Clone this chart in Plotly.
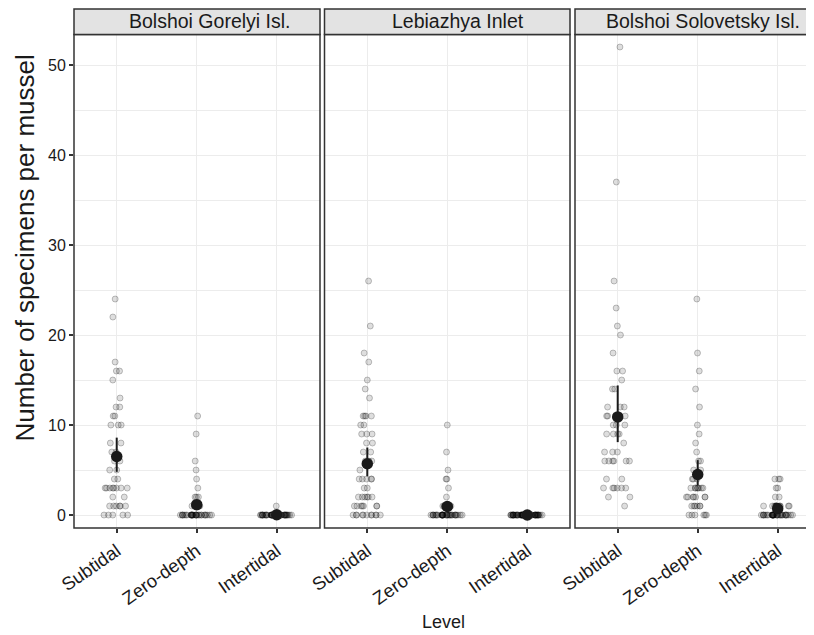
import plotly.graph_objects as go

# ---------------- data ----------------
levels = ["Subtidal", "Zero-depth", "Intertidal"]
sites = ["Bolshoi Gorelyi Isl.", "Lebiazhya Inlet", "Bolshoi Solovetsky Isl."]

gorelyi_subtidal = [24, 22, 17, 16, 16, 15, 13, 12, 12, 11, 11, 10, 10, 10, 8, 8, 7, 7, 6, 6,
                    5, 5, 4, 4, 3, 3, 3, 3, 3, 3, 3, 3, 2, 2, 1, 1, 1, 1, 1, 1, 0, 0, 0, 0, 0]
gorelyi_zero = [11, 9, 6, 5, 4, 3, 2, 2, 2, 1, 1, 1, 1, 1, 1, 1,
                0, 0, 0, 0, 0, 0, 0, 0, 0, 0, 0, 0, 0, 0, 0, 0, 0, 0, 0, 0, 0, 0, 0, 0, 0, 0, 0, 0, 0, 0]
gorelyi_inter = [1, 0, 0, 0, 0, 0, 0, 0, 0, 0, 0, 0, 0, 0, 0, 0, 0, 0, 0, 0, 0, 0, 0, 0, 0,
                 0, 0, 0, 0, 0, 0, 0, 0, 0, 0, 0, 0, 0, 0, 0, 0, 0, 0, 0, 0]

lebiazhya_subtidal = [26, 21, 18, 17, 15, 14, 13, 11, 11, 11, 11, 10, 10, 9, 9, 9, 8, 8, 7, 7,
                      6, 6, 6, 5, 4, 4, 4, 4, 4, 3, 3, 2, 2, 2, 2, 2, 2, 1, 1, 1, 1, 1, 1, 1,
                      0, 0, 0, 0, 0, 0, 0, 0, 0, 0, 0]
lebiazhya_zero = [10, 7, 5, 4, 4, 3, 2, 1, 1, 1, 1, 1, 1, 1, 1, 1, 1,
                  0, 0, 0, 0, 0, 0, 0, 0, 0, 0, 0, 0, 0, 0, 0, 0, 0, 0, 0, 0, 0, 0, 0, 0,
                  0, 0, 0, 0, 0, 0, 0, 0, 0, 0]
lebiazhya_inter = [0, 0, 0, 0, 0, 0, 0, 0, 0, 0, 0, 0, 0, 0, 0, 0, 0, 0, 0, 0, 0, 0, 0, 0, 0,
                   0, 0, 0, 0, 0, 0, 0, 0, 0, 0, 0, 0, 0, 0, 0, 0, 0, 0, 0, 0, 0, 0, 0, 0, 0]

solovetsky_subtidal = [52, 37, 26, 23, 21, 20, 18, 16, 16, 15, 14, 14, 12, 12, 12, 11, 11, 11,
                       10, 10, 10, 9, 9, 9, 9, 8, 7, 7, 7, 6, 6, 6, 6, 6, 6, 4, 4,
                       3, 3, 3, 3, 3, 3, 2, 2, 1]
solovetsky_zero = [24, 18, 16, 14, 12, 10, 9, 8, 7, 6, 6, 5, 5, 4, 4, 4,
                   3, 3, 3, 3, 3, 3, 3, 3, 2, 2, 2, 2, 2, 2, 2,
                   1, 1, 1, 1, 1, 1, 0, 0, 0, 0, 0, 0]
solovetsky_inter = [4, 4, 4, 3, 3, 2, 2, 1, 1, 1, 1, 1, 1, 1, 1, 1, 1, 1, 1, 1, 1,
                    0, 0, 0, 0, 0, 0, 0, 0, 0, 0, 0, 0, 0, 0, 0, 0, 0, 0, 0, 0, 0, 0, 0, 0,
                    0, 0, 0, 0, 0, 0, 0, 0, 0]

gorelyi_mean = [6.5, 1.15, 0.03]
gorelyi_low = [4.8, 0.75, 0.0]
gorelyi_high = [8.6, 1.6, 0.08]
lebiazhya_mean = [5.7, 0.95, 0.0]
lebiazhya_low = [4.3, 0.6, 0.0]
lebiazhya_high = [7.5, 1.4, 0.0]
solovetsky_mean = [10.9, 4.5, 0.7]
solovetsky_low = [8.1, 3.3, 0.45]
solovetsky_high = [14.4, 6.1, 1.0]

y_ticks = [0, 10, 20, 30, 40, 50]

panel_points = [
    [gorelyi_subtidal, gorelyi_zero, gorelyi_inter],
    [lebiazhya_subtidal, lebiazhya_zero, lebiazhya_inter],
    [solovetsky_subtidal, solovetsky_zero, solovetsky_inter],
]
panel_means = [gorelyi_mean, lebiazhya_mean, solovetsky_mean]
panel_lows = [gorelyi_low, lebiazhya_low, solovetsky_low]
panel_highs = [gorelyi_high, lebiazhya_high, solovetsky_high]

# ---------------- layout geometry (page body has an 8px margin) ----------------
W, H = 806, 627
px_domains = [(66, 312), (316.5, 562), (567, 806)]
x_ranges = [[-0.534, 2.541], [-0.535, 2.534], [-0.534, 2.454]]
plot_top, plot_bot = 26.5, 520
strip_top = 1.0
strip_text_x = [201, 449.5, 695]
FONT = "Liberation Sans, Arial, Helvetica, sans-serif"
TXT = "#1a1a1a"
GRID = "#ececec"

fig = go.Figure()

for p in range(3):
    xa = "x" if p == 0 else f"x{p + 1}"
    ya = "y" if p == 0 else f"y{p + 1}"
    for li, vals in enumerate(panel_points[p]):
        fig.add_trace(go.Box(
            x=[li] * len(vals), y=vals, orientation="v",
            boxpoints="all", jitter=1, pointpos=0, width=0.42,
            line=dict(width=0, color="rgba(0,0,0,0)"), fillcolor="rgba(0,0,0,0)",
            whiskerwidth=0,
            marker=dict(size=6, color="rgba(0,0,0,0.13)",
                        line=dict(color="rgba(0,0,0,0.23)", width=1)),
            xaxis=xa, yaxis=ya, showlegend=False, hoverinfo="y",
        ))
for p in range(3):
    xa = "x" if p == 0 else f"x{p + 1}"
    ya = "y" if p == 0 else f"y{p + 1}"
    m = panel_means[p]
    fig.add_trace(go.Scatter(
        x=[0, 1, 2], y=m, mode="markers",
        marker=dict(size=11.5, color="#1a1a1a"),
        error_y=dict(type="data", symmetric=False,
                     array=[h - v for h, v in zip(panel_highs[p], m)],
                     arrayminus=[v - l for l, v in zip(panel_lows[p], m)],
                     color="#1a1a1a", thickness=2, width=0),
        xaxis=xa, yaxis=ya, showlegend=False,
    ))

layout = dict(
    width=W, height=H, margin=dict(l=0, r=0, t=0, b=0),
    paper_bgcolor="white", plot_bgcolor="white",
    font=dict(family=FONT, color=TXT),
    template="none", showlegend=False,
)
ydom = [1 - plot_bot / H, 1 - plot_top / H]
for p in range(3):
    xk = "xaxis" if p == 0 else f"xaxis{p + 1}"
    yk = "yaxis" if p == 0 else f"yaxis{p + 1}"
    x0, x1 = px_domains[p]
    layout[xk] = dict(
        domain=[x0 / W, x1 / W], range=x_ranges[p], type="linear",
        tickmode="array", tickvals=[0, 1, 2], ticktext=levels,
        tickangle=-35, tickfont=dict(size=18.5, color=TXT, family=FONT),
        ticks="outside", ticklen=4, tickwidth=1.5, tickcolor="#333333",
        showgrid=True, gridcolor=GRID, gridwidth=1.3, zeroline=False,
        showline=False, anchor="y" if p == 0 else f"y{p + 1}",
    )
    layout[yk] = dict(
        domain=ydom, range=[-1.44, 53.39], type="linear",
        tickmode="array", tickvals=y_ticks,
        showticklabels=(p == 0), tickfont=dict(size=16, color=TXT, family=FONT),
        ticks="outside" if p == 0 else "", ticklen=4, tickwidth=1.5, tickcolor="#333333",
        showgrid=True, gridcolor=GRID, gridwidth=1.3, zeroline=False,
        minor=dict(tickvals=[5, 15, 25, 35, 45], showgrid=True, gridcolor=GRID, gridwidth=1.3),
        showline=False, anchor="x" if p == 0 else f"x{p + 1}",
    )

shapes = []
annotations = []
for p in range(3):
    x0, x1 = px_domains[p]
    xr = x1 / W if p < 2 else 1.01
    shapes.append(dict(type="rect", xref="paper", yref="paper",
                       x0=x0 / W, x1=xr, y0=ydom[0], y1=ydom[1],
                       line=dict(color="#333333", width=1.5), fillcolor="rgba(0,0,0,0)",
                       layer="above"))
    shapes.append(dict(type="rect", xref="paper", yref="paper",
                       x0=x0 / W, x1=xr, y0=1 - plot_top / H, y1=1 - strip_top / H,
                       line=dict(color="#333333", width=1.5), fillcolor="#e3e3e3",
                       layer="above"))
    annotations.append(dict(text=sites[p], xref="paper", yref="paper",
                            x=strip_text_x[p] / W, y=1 - 13.5 / H,
                            xanchor="center", yanchor="middle", showarrow=False,
                            font=dict(size=19.5, color=TXT, family=FONT)))

annotations.append(dict(text="Number of specimens per mussel", xref="paper", yref="paper",
                        x=16.5 / W, y=1 - 240 / H, textangle=-90,
                        xanchor="center", yanchor="middle", showarrow=False,
                        font=dict(size=26, color=TXT, family=FONT)))
annotations.append(dict(text="Level", xref="paper", yref="paper",
                        x=435 / W, y=1 - 614 / H,
                        xanchor="center", yanchor="middle", showarrow=False,
                        font=dict(size=18, color=TXT, family=FONT)))
layout["shapes"] = shapes
layout["annotations"] = annotations
fig.update_layout(**layout)

fig.write_html("out.html")
